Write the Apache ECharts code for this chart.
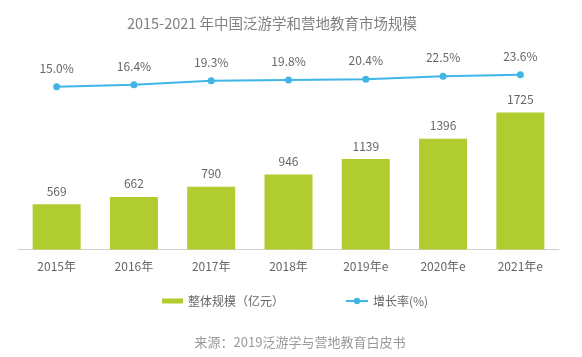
<!DOCTYPE html>
<html><head><meta charset="utf-8">
<script src="https://cdn.jsdelivr.net/npm/echarts@6/dist/echarts.min.js"></script>
<style>html,body{margin:0;padding:0;background:#fff}#c{width:582px;height:357px}</style>
</head><body><div id="c"></div>
<script>
const categories = ['2015年','2016年','2017年','2018年','2019年e','2020年e','2021年e'];
const marketSize = [569, 662, 790, 946, 1139, 1396, 1725];
const growthRate = [15.0, 16.4, 19.3, 19.8, 20.4, 22.5, 23.6];
const titleText = '2015-2021 年中国泛游学和营地教育市场规模';
const sourceText = '来源：2019泛游学与营地教育白皮书';
const barName = '整体规模（亿元）';
const lineName = '增长率(%)';

const font = '"Noto Sans CJK SC", "Noto Sans", sans-serif';
const chart = echarts.init(document.getElementById('c'));
chart.setOption({
  animation: false,
  backgroundColor: '#fff',
  textStyle: { fontFamily: font },
  title: [
    { text: titleText, left: 267, textAlign: 'center', top: 11, textStyle: { fontSize: 14.5, fontWeight: 'normal', color: '#808080', fontFamily: font } },
    { text: sourceText, left: 295, textAlign: 'center', top: 331, textStyle: { fontSize: 13, fontWeight: 'normal', color: '#999', fontFamily: font } }
  ],
  legend: [
    { data: [barName], left: 157, top: 290, itemWidth: 21, itemHeight: 5, itemGap: 4, icon: 'rect',
      textStyle: { color: '#666', fontSize: 12, fontFamily: font } },
    { data: [lineName], left: 340, top: 290, itemWidth: 22, itemHeight: 8, itemGap: 4,
      textStyle: { color: '#666', fontSize: 12, fontFamily: font } }
  ],
  grid: { left: 18, right: 23, top: 51, bottom: 107.5, containLabel: false },
  xAxis: {
    type: 'category', data: categories,
    axisLine: { lineStyle: { color: '#d0d0d0', width: 1 } },
    axisTick: { show: false },
    axisLabel: { color: '#666', fontSize: 12, margin: 11, fontFamily: font }
  },
  yAxis: [
    { type: 'value', min: 0, max: 2500, show: false, splitLine: { show: false } },
    { type: 'value', min: -101.7, max: 40.6, show: false, splitLine: { show: false } }
  ],
  series: [
    { name: barName, type: 'bar', data: marketSize, barWidth: 48, yAxisIndex: 0,
      itemStyle: { color: '#b0cc2f' },
      label: { show: true, position: 'top', distance: 7, color: '#666', fontSize: 12, fontFamily: font } },
    { name: lineName, type: 'line', data: growthRate, yAxisIndex: 1,
      symbol: 'circle', symbolSize: 7,
      lineStyle: { color: '#3fb6e5', width: 2 },
      itemStyle: { color: '#3fb6e5' },
      label: { show: true, position: 'top', distance: 9, color: '#666', fontSize: 12, fontFamily: font,
        formatter: p => p.value.toFixed(1) + '%' } }
  ]
});
</script></body></html>
